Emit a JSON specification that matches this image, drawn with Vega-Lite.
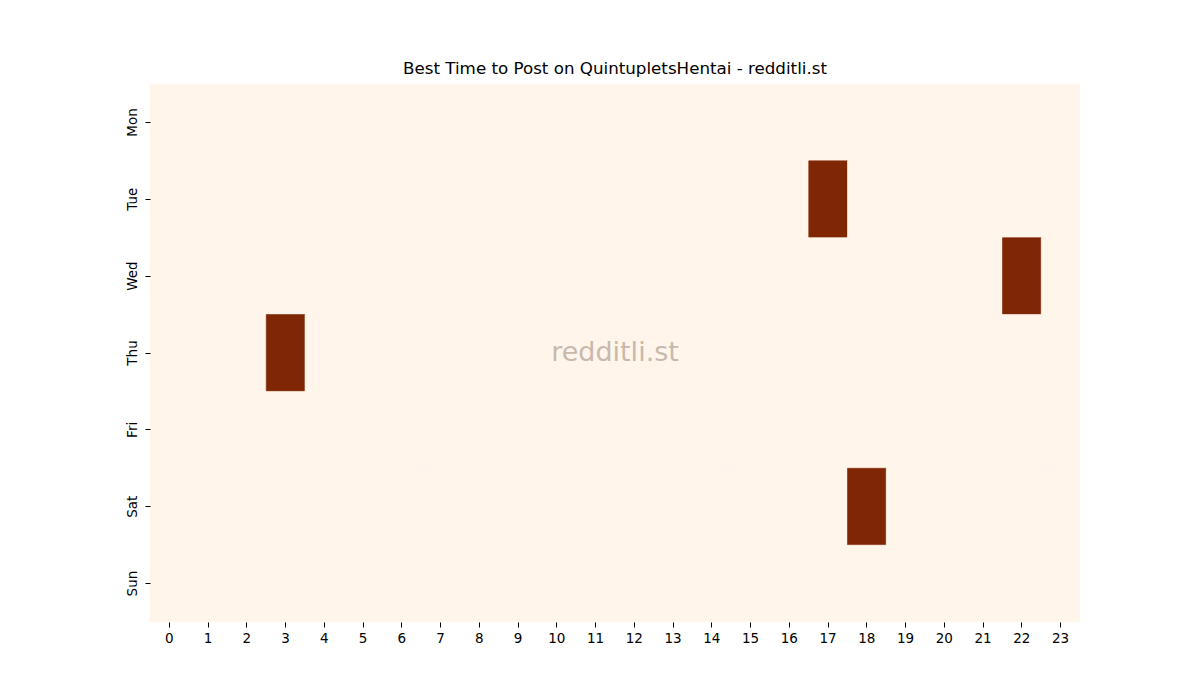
{
  "$schema": "https://vega.github.io/schema/vega-lite/v6.json",
  "autosize": {"type": "none"},
  "padding": {"left": 150, "top": 84, "right": 120, "bottom": 78},
  "width": 930,
  "height": 538,
  "background": "white",
  "title": {
    "text": "Best Time to Post on QuintupletsHentai - redditli.st",
    "font": "DejaVu Sans",
    "fontSize": 16.7,
    "fontWeight": "normal",
    "color": "black",
    "offset": 6
  },
  "datasets": {
    "cells": [
      {"d":"Mon","h":0,"v":0},{"d":"Mon","h":1,"v":0},{"d":"Mon","h":2,"v":0},{"d":"Mon","h":3,"v":0},{"d":"Mon","h":4,"v":0},{"d":"Mon","h":5,"v":0},{"d":"Mon","h":6,"v":0},{"d":"Mon","h":7,"v":0},{"d":"Mon","h":8,"v":0},{"d":"Mon","h":9,"v":0},{"d":"Mon","h":10,"v":0},{"d":"Mon","h":11,"v":0},{"d":"Mon","h":12,"v":0},{"d":"Mon","h":13,"v":0},{"d":"Mon","h":14,"v":0},{"d":"Mon","h":15,"v":0},{"d":"Mon","h":16,"v":0},{"d":"Mon","h":17,"v":0},{"d":"Mon","h":18,"v":0},{"d":"Mon","h":19,"v":0},{"d":"Mon","h":20,"v":0},{"d":"Mon","h":21,"v":0},{"d":"Mon","h":22,"v":0},{"d":"Mon","h":23,"v":0},
      {"d":"Tue","h":0,"v":0},{"d":"Tue","h":1,"v":0},{"d":"Tue","h":2,"v":0},{"d":"Tue","h":3,"v":0},{"d":"Tue","h":4,"v":0},{"d":"Tue","h":5,"v":0},{"d":"Tue","h":6,"v":0},{"d":"Tue","h":7,"v":0},{"d":"Tue","h":8,"v":0},{"d":"Tue","h":9,"v":0},{"d":"Tue","h":10,"v":0},{"d":"Tue","h":11,"v":0},{"d":"Tue","h":12,"v":0},{"d":"Tue","h":13,"v":0},{"d":"Tue","h":14,"v":0},{"d":"Tue","h":15,"v":0},{"d":"Tue","h":16,"v":0},{"d":"Tue","h":17,"v":1},{"d":"Tue","h":18,"v":0},{"d":"Tue","h":19,"v":0},{"d":"Tue","h":20,"v":0},{"d":"Tue","h":21,"v":0},{"d":"Tue","h":22,"v":0},{"d":"Tue","h":23,"v":0},
      {"d":"Wed","h":0,"v":0},{"d":"Wed","h":1,"v":0},{"d":"Wed","h":2,"v":0},{"d":"Wed","h":3,"v":0},{"d":"Wed","h":4,"v":0},{"d":"Wed","h":5,"v":0},{"d":"Wed","h":6,"v":0},{"d":"Wed","h":7,"v":0},{"d":"Wed","h":8,"v":0},{"d":"Wed","h":9,"v":0},{"d":"Wed","h":10,"v":0},{"d":"Wed","h":11,"v":0},{"d":"Wed","h":12,"v":0},{"d":"Wed","h":13,"v":0},{"d":"Wed","h":14,"v":0},{"d":"Wed","h":15,"v":0},{"d":"Wed","h":16,"v":0},{"d":"Wed","h":17,"v":0},{"d":"Wed","h":18,"v":0},{"d":"Wed","h":19,"v":0},{"d":"Wed","h":20,"v":0},{"d":"Wed","h":21,"v":0},{"d":"Wed","h":22,"v":1},{"d":"Wed","h":23,"v":0},
      {"d":"Thu","h":0,"v":0},{"d":"Thu","h":1,"v":0},{"d":"Thu","h":2,"v":0},{"d":"Thu","h":3,"v":1},{"d":"Thu","h":4,"v":0},{"d":"Thu","h":5,"v":0},{"d":"Thu","h":6,"v":0},{"d":"Thu","h":7,"v":0},{"d":"Thu","h":8,"v":0},{"d":"Thu","h":9,"v":0},{"d":"Thu","h":10,"v":0},{"d":"Thu","h":11,"v":0},{"d":"Thu","h":12,"v":0},{"d":"Thu","h":13,"v":0},{"d":"Thu","h":14,"v":0},{"d":"Thu","h":15,"v":0},{"d":"Thu","h":16,"v":0},{"d":"Thu","h":17,"v":0},{"d":"Thu","h":18,"v":0},{"d":"Thu","h":19,"v":0},{"d":"Thu","h":20,"v":0},{"d":"Thu","h":21,"v":0},{"d":"Thu","h":22,"v":0},{"d":"Thu","h":23,"v":0},
      {"d":"Fri","h":0,"v":0},{"d":"Fri","h":1,"v":0},{"d":"Fri","h":2,"v":0},{"d":"Fri","h":3,"v":0},{"d":"Fri","h":4,"v":0},{"d":"Fri","h":5,"v":0},{"d":"Fri","h":6,"v":0},{"d":"Fri","h":7,"v":0},{"d":"Fri","h":8,"v":0},{"d":"Fri","h":9,"v":0},{"d":"Fri","h":10,"v":0},{"d":"Fri","h":11,"v":0},{"d":"Fri","h":12,"v":0},{"d":"Fri","h":13,"v":0},{"d":"Fri","h":14,"v":0},{"d":"Fri","h":15,"v":0},{"d":"Fri","h":16,"v":0},{"d":"Fri","h":17,"v":0},{"d":"Fri","h":18,"v":0},{"d":"Fri","h":19,"v":0},{"d":"Fri","h":20,"v":0},{"d":"Fri","h":21,"v":0},{"d":"Fri","h":22,"v":0},{"d":"Fri","h":23,"v":0},
      {"d":"Sat","h":0,"v":0},{"d":"Sat","h":1,"v":0},{"d":"Sat","h":2,"v":0},{"d":"Sat","h":3,"v":0},{"d":"Sat","h":4,"v":0},{"d":"Sat","h":5,"v":0},{"d":"Sat","h":6,"v":0},{"d":"Sat","h":7,"v":0},{"d":"Sat","h":8,"v":0},{"d":"Sat","h":9,"v":0},{"d":"Sat","h":10,"v":0},{"d":"Sat","h":11,"v":0},{"d":"Sat","h":12,"v":0},{"d":"Sat","h":13,"v":0},{"d":"Sat","h":14,"v":0},{"d":"Sat","h":15,"v":0},{"d":"Sat","h":16,"v":0},{"d":"Sat","h":17,"v":0},{"d":"Sat","h":18,"v":1},{"d":"Sat","h":19,"v":0},{"d":"Sat","h":20,"v":0},{"d":"Sat","h":21,"v":0},{"d":"Sat","h":22,"v":0},{"d":"Sat","h":23,"v":0},
      {"d":"Sun","h":0,"v":0},{"d":"Sun","h":1,"v":0},{"d":"Sun","h":2,"v":0},{"d":"Sun","h":3,"v":0},{"d":"Sun","h":4,"v":0},{"d":"Sun","h":5,"v":0},{"d":"Sun","h":6,"v":0},{"d":"Sun","h":7,"v":0},{"d":"Sun","h":8,"v":0},{"d":"Sun","h":9,"v":0},{"d":"Sun","h":10,"v":0},{"d":"Sun","h":11,"v":0},{"d":"Sun","h":12,"v":0},{"d":"Sun","h":13,"v":0},{"d":"Sun","h":14,"v":0},{"d":"Sun","h":15,"v":0},{"d":"Sun","h":16,"v":0},{"d":"Sun","h":17,"v":0},{"d":"Sun","h":18,"v":0},{"d":"Sun","h":19,"v":0},{"d":"Sun","h":20,"v":0},{"d":"Sun","h":21,"v":0},{"d":"Sun","h":22,"v":0},{"d":"Sun","h":23,"v":0}
    ],
    "mark": [{"label": "redditli.st"}]
  },
  "layer": [
    {
      "data": {"name": "cells"},
      "mark": {"type": "rect", "strokeWidth": 0.6},
      "encoding": {
        "x": {
          "field": "h",
          "type": "ordinal",
          "title": null,
          "scale": {"paddingInner": 0, "paddingOuter": 0},
          "axis": {"labelAngle": 0, "domain": false, "tickSize": 5, "labelPadding": 4}
        },
        "y": {
          "field": "d",
          "type": "nominal",
          "title": null,
          "sort": ["Mon", "Tue", "Wed", "Thu", "Fri", "Sat", "Sun"],
          "scale": {"paddingInner": 0, "paddingOuter": 0},
          "axis": {"labelAngle": -90, "domain": false, "tickSize": 5, "labelPadding": 6, "labelAlign": "center", "labelBaseline": "bottom"}
        },
        "color": {
          "field": "v",
          "type": "quantitative",
          "scale": {"domain": [0, 1], "range": ["#fff5eb", "#7f2704"]},
          "legend": null
        },
        "stroke": {
          "field": "v",
          "type": "quantitative",
          "scale": {"domain": [0, 1], "range": ["#fff5eb", "#7f2704"]},
          "legend": null
        }
      }
    },
    {
      "data": {"name": "mark"},
      "mark": {
        "type": "text",
        "x": {"expr": "width/2"},
        "y": {"expr": "height/2"},
        "font": "DejaVu Sans",
        "fontSize": 27,
        "color": "#c8b9ae",
        "align": "center",
        "baseline": "middle"
      },
      "encoding": {"text": {"field": "label"}}
    }
  ],
  "config": {
    "view": {"stroke": null},
    "axis": {
      "labelFont": "DejaVu Sans",
      "labelFontSize": 13.5,
      "labelColor": "black",
      "tickColor": "black",
      "grid": false
    }
  }
}
